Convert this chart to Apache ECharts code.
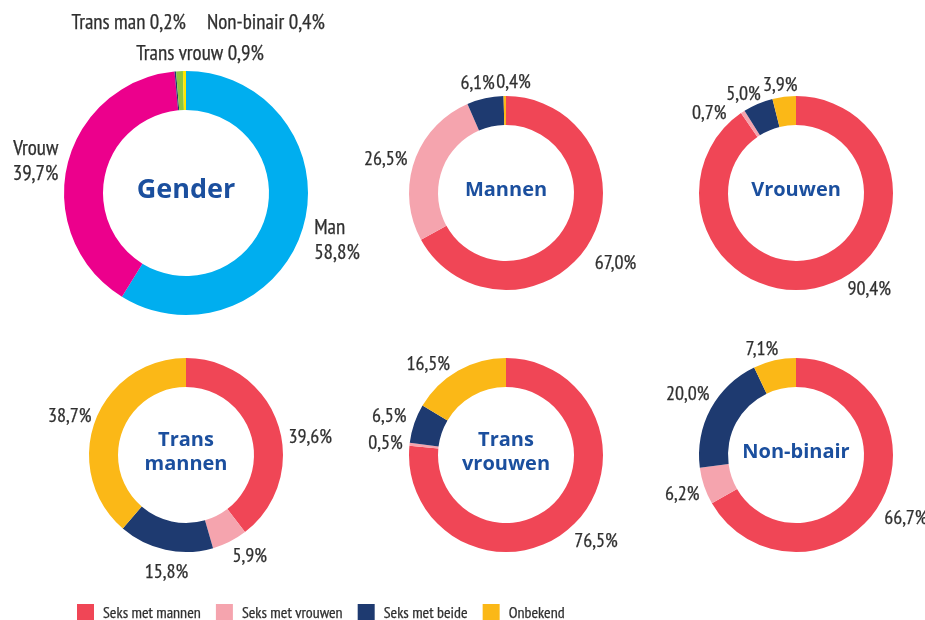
<!DOCTYPE html>
<html><head><meta charset="utf-8">
<script src="https://cdn.jsdelivr.net/npm/echarts@6/dist/echarts.min.js"></script>
<style>html,body{margin:0;padding:0;background:#fff}#c{width:925px;height:620px}</style>
</head><body><div id="c"></div>
<script>
// ---- data ----
const genderNames = ['Man', 'Vrouw', 'Trans man', 'Trans vrouw', 'Non-binair'];
const genderValues = [58.8, 39.7, 0.2, 0.9, 0.4];
const sexCategories = ['Seks met mannen', 'Seks met vrouwen', 'Seks met beide', 'Onbekend'];
const groupTitles = ['Mannen', 'Vrouwen', 'Trans\nmannen', 'Trans\nvrouwen', 'Non-binair'];
const mannen = [67.0, 26.5, 6.1, 0.4];
const vrouwen = [90.4, 0.7, 5.0, 3.9];
const transMannen = [39.6, 5.9, 15.8, 38.7];
const transVrouwen = [76.5, 0.5, 6.5, 16.5];
const nonBinair = [66.7, 6.2, 20.0, 7.1];

// ---- styling / layout ----
const LABEL_FONT = '"PT Sans Narrow", "Roboto Condensed", sans-serif';
const TITLE_FONT = '"Open Sans", "Noto Sans", sans-serif';
const TEXT_COLOR = '#2f2f2f';
const genderColors = ['#00AEEF', '#EC008C', '#1E3A70', '#8DC63F', '#FFE600'];
const sexColors = ['#F04656', '#F5A4AE', '#1E3A70', '#FBB817'];
const groupSeries = [mannen, vrouwen, transMannen, transVrouwen, nonBinair];
const groupCenters = [[506, 193], [796, 193], [186, 455], [506, 455], [796, 455]];
const genderCenter = [186, 193];
const fmt = v => v.toFixed(1).replace('.', ',') + '%';

// label nudges (dx, dy) relative to the default outside position, per pie / per slice
const genderNudges = [[0, 13], [2, -2]];
const groupNudges = [
  [[-5, 18], [4, 0], [16, -9], [31, -8]],
  [[16, -2], [-8, 6], [10, -4], [19, -6]],
  [[0, 15], [-5, 9], [29, 17], [7, -3]],
  [[-6, 10], [4, 0], [3, -5], [0, -1]],
  [[-6, 12], [6, 6], [9, -12], [10, -5]]
];
// manual anchor for the three tiny gender slices at the top
const genderSmallLabelPos = {
  2: { x: 186, y: 23, align: 'right' },
  3: { x: 200, y: 54, align: 'center' },
  4: { x: 207, y: 23, align: 'left' }
};

const labelBase = {
  show: true, position: 'outside', color: TEXT_COLOR, fontSize: 20,
  fontFamily: LABEL_FONT, lineHeight: 25, textBorderColor: TEXT_COLOR, textBorderWidth: 0.25
};

const series = [{
  type: 'pie', center: genderCenter, radius: [83, 122], startAngle: 90, clockwise: true,
  avoidLabelOverlap: false, silent: true,
  labelLine: { show: false, length: 6, length2: 0 },
  labelLayout: function (p) {
    const s = genderSmallLabelPos[p.dataIndex];
    if (s) return { x: s.x, y: s.y, align: s.align, verticalAlign: 'middle', hideOverlap: false };
    const n = genderNudges[p.dataIndex];
    return { dx: n[0], dy: n[1], hideOverlap: false };
  },
  label: Object.assign({}, labelBase, {
    fontSize: 21,
    formatter: p => p.dataIndex < 2 ? p.name + '\n' + fmt(p.value) : p.name + ' ' + fmt(p.value)
  }),
  data: genderNames.map((n, i) => ({ name: n, value: genderValues[i], itemStyle: { color: genderColors[i] } }))
}];

groupSeries.forEach((vals, gi) => {
  series.push({
    type: 'pie', center: groupCenters[gi], radius: [68, 97], startAngle: 90, clockwise: true,
    avoidLabelOverlap: false, silent: true,
    labelLine: { show: false, length: 6, length2: 0 },
    labelLayout: function (p) {
      const n = groupNudges[gi][p.dataIndex];
      return { dx: n[0], dy: n[1], hideOverlap: false };
    },
    label: Object.assign({}, labelBase, { formatter: p => fmt(p.value) }),
    data: sexCategories.map((n, i) => ({ name: n, value: vals[i], itemStyle: { color: sexColors[i] } }))
  });
});

const titles = [{ text: 'Gender', c: genderCenter, size: 27 }]
  .concat(groupTitles.map((t, i) => ({ text: t, c: groupCenters[i], size: 20 })))
  .map(t => ({
    text: t.text, left: t.c[0] - 5, top: t.c[1] - 8, textAlign: 'center', textVerticalAlign: 'middle',
    textStyle: { color: '#1B4F9E', fontSize: t.size, fontWeight: 'bold', fontFamily: TITLE_FONT, lineHeight: t.size * 1.2 }
  }));

const chart = echarts.init(document.getElementById('c'), null, { renderer: 'canvas' });
chart.setOption({
  animation: false,
  backgroundColor: '#fff',
  title: titles,
  legend: {
    data: sexCategories, left: 72, top: 599, icon: 'rect', itemWidth: 17, itemHeight: 18,
    itemGap: 15, selectedMode: false,
    textStyle: { color: TEXT_COLOR, fontSize: 16, fontFamily: LABEL_FONT, textBorderColor: TEXT_COLOR,
      textBorderWidth: 0.25, padding: [0, 0, 0, 4] }
  },
  series: series
});
</script>
</body></html>
